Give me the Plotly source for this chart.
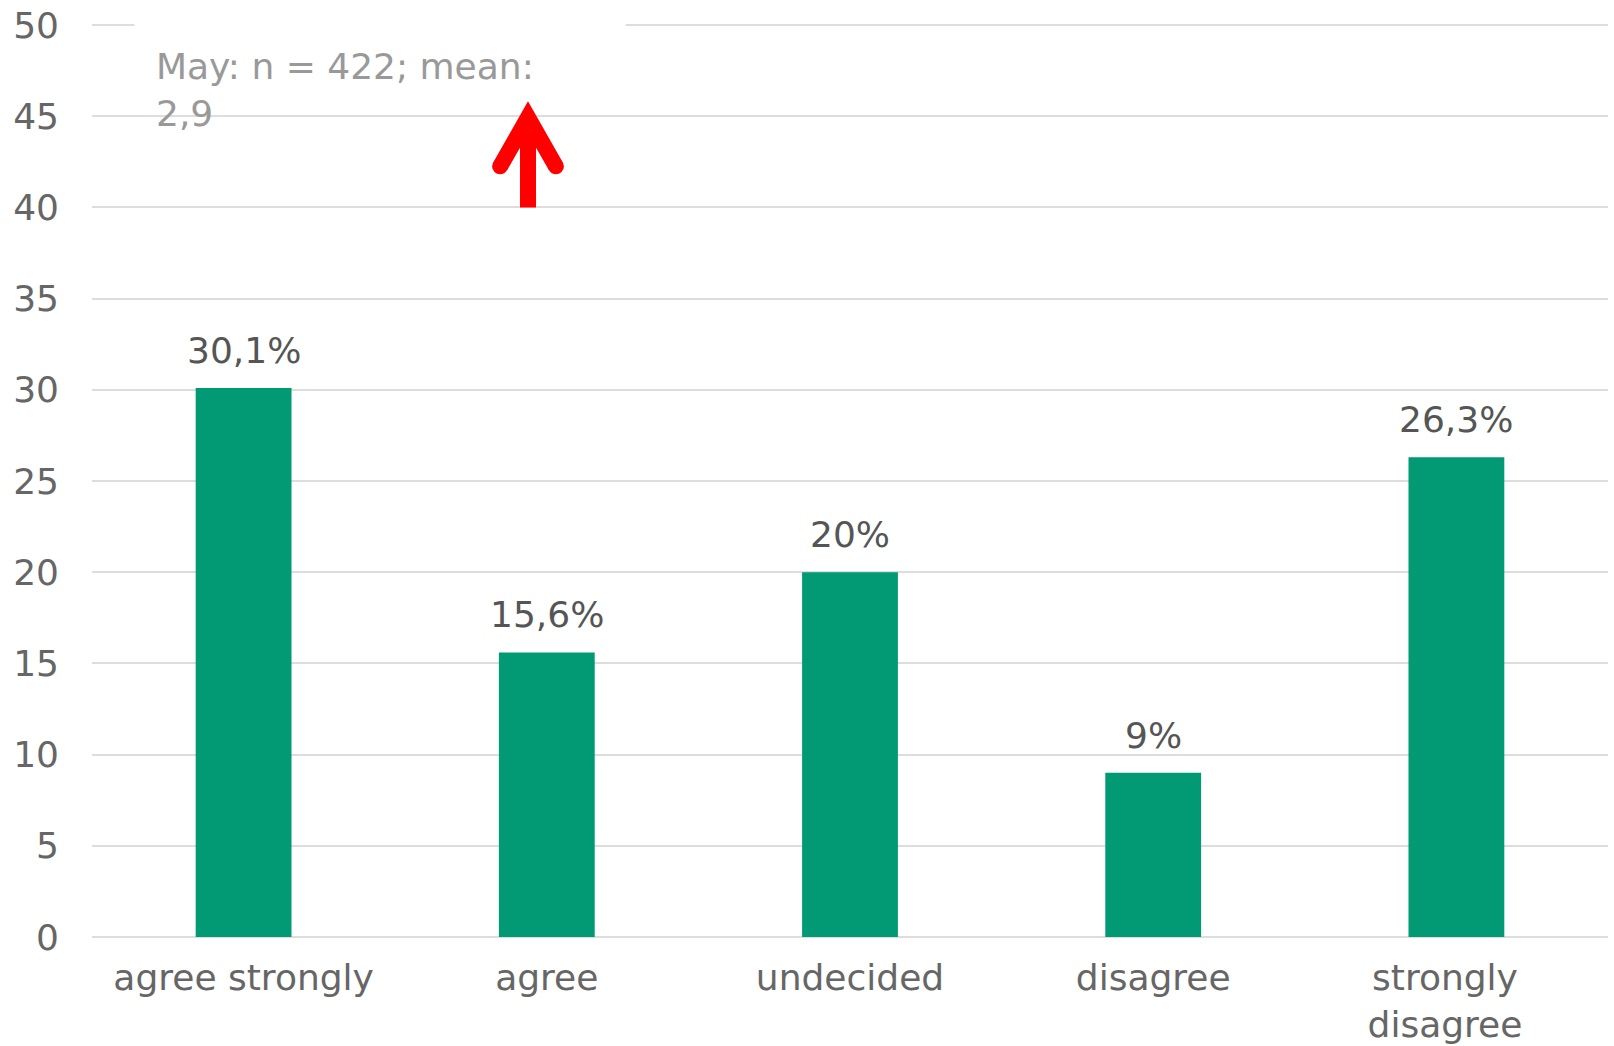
import plotly.graph_objects as go

categories = ["agree strongly", "agree", "undecided", "disagree",
              "strongly\u00a0\u00a0<br>disagree\u00a0\u00a0"]
values = [30.1, 15.6, 20.0, 9.0, 26.3]
value_labels = ["30,1%", "15,6%", "20%", "9%", "26,3%"]
y_ticks = [0, 5, 10, 15, 20, 25, 30, 35, 40, 45, 50]
note_text = "May: n = 422; mean:<br>2,9"

# mean marker arrow (category-index x, data y)
arrow_x = 0.938
arrow_base = 40.0
arrow_vertex = 44.93
arrow_arm_y = 42.25
arrow_arm_dx = 0.092

FONT = "DejaVu Sans"
BAR = "#019a74"
GRID = "#dddddd"
RED = "#ff0000"

x_idx = list(range(len(categories)))

fig = go.Figure()
fig.add_trace(go.Bar(x=x_idx, y=values, width=0.316, marker=dict(color=BAR, line=dict(width=0)),
                     hoverinfo="skip"))

for xi, v, lab in zip(x_idx, values, value_labels):
    fig.add_annotation(x=xi, y=v, text=lab, showarrow=False, yanchor="bottom", yshift=15,
                       font=dict(family=FONT, size=36, color="#555555"))

# top gridline (range edge) drawn as a shape, then a white box behind the note
fig.add_shape(type="line", xref="paper", yref="paper", x0=0, x1=1, y0=1, y1=1,
              line=dict(color=GRID, width=2), layer="below")
fig.add_shape(type="rect", xref="paper", yref="paper", x0=0.028, x1=0.352, y0=0.975, y1=1.02,
              fillcolor="white", line=dict(width=0), layer="above")

fig.add_annotation(xref="paper", yref="paper", x=0.041, y=0.979, xanchor="left", yanchor="top",
                   align="left", text=note_text, showarrow=False,
                   font=dict(family=FONT, size=36, color="#999999"))

# red arrow
fig.add_shape(type="line", x0=arrow_x, x1=arrow_x, y0=arrow_base, y1=arrow_vertex,
              line=dict(color=RED, width=16))
fig.add_shape(type="path",
              path=f"M {arrow_x - arrow_arm_dx},{arrow_arm_y} L {arrow_x},{arrow_vertex} L {arrow_x + arrow_arm_dx},{arrow_arm_y}",
              line=dict(color=RED, width=16))
for sx in (arrow_x - arrow_arm_dx, arrow_x + arrow_arm_dx):
    fig.add_shape(type="circle", xsizemode="pixel", ysizemode="pixel", xanchor=sx, yanchor=arrow_arm_y,
                  x0=-8, x1=8, y0=-8, y1=8, fillcolor=RED, line=dict(width=0))

fig.update_layout(
    width=1614, height=1046,
    margin=dict(l=92, r=6, t=25, b=109),
    paper_bgcolor="white", plot_bgcolor="white",
    showlegend=False,
    font=dict(family=FONT, size=36, color="#666666"),
    bargap=0.684,
)
fig.update_xaxes(range=[-0.5, 4.5], tickmode="array", tickvals=x_idx, ticktext=categories,
                 showgrid=False, zeroline=False, showline=False, ticks="", automargin=False,
                 tickfont=dict(family=FONT, size=36, color="#666666"), ticklabelstandoff=16)
fig.update_yaxes(range=[0, 50], tickmode="array", tickvals=y_ticks, automargin=False,
                 showgrid=True, gridcolor=GRID, gridwidth=2,
                 zeroline=True, zerolinecolor=GRID, zerolinewidth=2, showline=False,
                 ticks="", tickfont=dict(family=FONT, size=36, color="#666666"), ticklabelstandoff=32)

fig.write_html("out.html")
